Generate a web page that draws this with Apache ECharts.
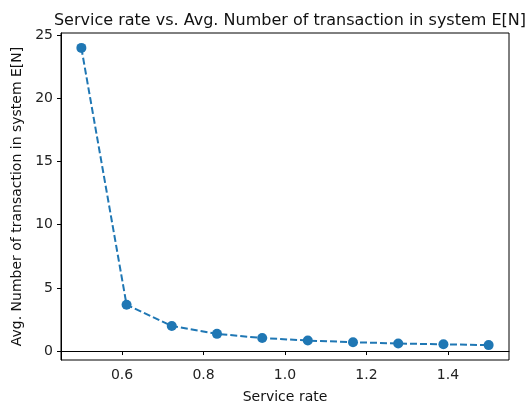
<!DOCTYPE html>
<html><head><meta charset="utf-8">
<script src="https://cdn.jsdelivr.net/npm/echarts@6/dist/echarts.min.js"></script>
<style>html,body{margin:0;padding:0;background:#fff}#c{width:529px;height:409px}</style>
</head><body><div id="c"></div>
<script>
const serviceRate = [0.5, 0.611, 0.722, 0.833, 0.944, 1.056, 1.167, 1.278, 1.389, 1.5];
const avgN = [24.0, 3.66, 1.98, 1.36, 1.03, 0.83, 0.70, 0.60, 0.53, 0.47];
const xTicks = [0.6, 0.8, 1.0, 1.2, 1.4];
const yTicks = [0, 5, 10, 15, 20, 25];
const titleText = 'Service rate vs. Avg. Number of transaction in system E[N]';
const xName = 'Service rate';
const yName = 'Avg. Number of transaction in system E[N]';

const font = 'DejaVu Sans';
const chart = echarts.init(document.getElementById('c'), null, {renderer: 'canvas'});
chart.setOption({
  animation: false,
  backgroundColor: '#fff',
  title: {text: titleText, left: 285, textAlign: 'center', top: 8,
    textStyle: {fontFamily: font, fontSize: 16, fontWeight: 'normal', color: '#111'}},
  grid: {left: 61, right: 20, top: 33, bottom: 46, show: true, borderColor: '#000', borderWidth: 1, backgroundColor: 'transparent'},
  xAxis: {type: 'value', min: 0.45, max: 1.55,
    name: xName, nameLocation: 'middle', nameGap: 30,
    nameTextStyle: {fontFamily: font, fontSize: 14, color: '#111'},
    axisLine: {show: true, lineStyle: {color: '#000', width: 1}},
    axisTick: {show: true, inside: false, length: 4, lineStyle: {color: '#000'}, customValues: xTicks},
    axisLabel: {fontFamily: font, fontSize: 14, color: '#222', margin: 8, customValues: xTicks,
      formatter: v => v.toFixed(1)},
    splitLine: {show: false}},
  yAxis: {type: 'value', min: -0.71, max: 25.18,
    name: yName, nameLocation: 'middle', nameGap: 32,
    nameTextStyle: {fontFamily: font, fontSize: 14, color: '#111'},
    axisLine: {show: true, lineStyle: {color: '#000', width: 1}},
    axisTick: {show: true, inside: false, length: 4, lineStyle: {color: '#000'}, customValues: yTicks},
    axisLabel: {fontFamily: font, fontSize: 14, color: '#222', margin: 8, customValues: yTicks,
      formatter: v => String(Math.round(v))},
    splitLine: {show: false}},
  series: [{
    type: 'line',
    data: serviceRate.map((x, i) => [x, avgN[i]]),
    symbol: 'circle', symbolSize: 10,
    itemStyle: {color: '#1f77b4'},
    lineStyle: {color: '#1f77b4', width: 2, type: [7, 3]}
  }]
});
</script></body></html>
